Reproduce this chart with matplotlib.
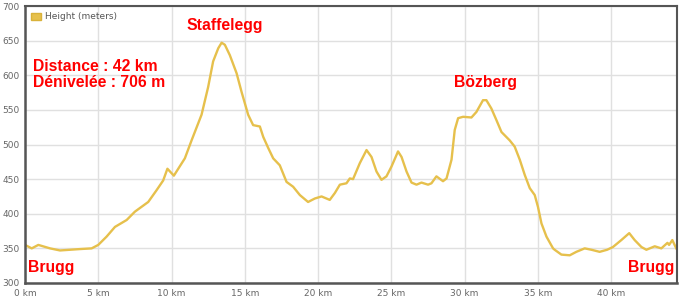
import matplotlib
matplotlib.use("Agg")
import matplotlib.pyplot as plt
import numpy as np
from matplotlib.patches import Patch

# profil Brugg - Staffelegg - Bözberg - Brugg
dist_km = [0.00, 0.46, 0.91, 1.71, 2.39, 3.07, 3.75, 4.55, 5.00, 5.57,
           6.14, 6.94, 7.50, 8.41, 8.98, 9.43, 9.72, 10.16, 10.91, 11.37,
           12.05, 12.50, 12.84, 13.19, 13.42, 13.64, 13.98, 14.44, 14.78, 15.23,
           15.57, 16.03, 16.26, 16.60, 16.94, 17.39, 17.85, 18.30, 18.76, 19.32,
           19.78, 20.24, 20.80, 21.15, 21.49, 21.94, 22.17, 22.39, 22.85, 23.31,
           23.65, 23.99, 24.33, 24.67, 25.01, 25.46, 25.70, 26.04, 26.38, 26.72,
           27.06, 27.51, 27.74, 28.08, 28.53, 28.77, 29.11, 29.33, 29.56, 29.90,
           30.47, 30.81, 31.26, 31.49, 31.83, 32.18, 32.52, 33.08, 33.42, 33.77,
           34.11, 34.45, 34.79, 35.01, 35.25, 35.59, 36.04, 36.15, 36.61, 37.18,
           37.63, 38.20, 38.66, 39.22, 39.73, 40.13, 40.70, 41.24, 41.61, 42.07,
           42.41, 42.98, 43.43, 43.85, 43.96, 44.18, 44.45]
alt_m = [355, 350, 355, 350, 347, 348, 349, 350, 355, 367,
         381, 391, 403, 417, 434, 448, 465, 455, 480, 506,
         543, 583, 620, 639, 647, 644, 629, 603, 576, 543,
         528, 526, 511, 495, 480, 470, 446, 439, 427, 417,
         422, 425, 420, 430, 442, 444, 451, 450, 473, 492,
         482, 461, 449, 454, 468, 490, 482, 461, 445, 442,
         445, 442, 444, 454, 447, 451, 478, 521, 538, 540,
         539, 547, 564, 564, 552, 535, 518, 506, 497, 478,
         456, 437, 427, 410, 386, 367, 350, 348, 341, 340,
         345, 350, 348, 345, 348, 352, 362, 372, 362, 352,
         348, 353, 350, 358, 355, 362, 350]

xticks = [0, 5, 10, 15, 20, 25, 30, 35, 40]
yticks = [300, 350, 400, 450, 500, 550, 600, 650, 700]

couleur = '#E6C04C'

fig = plt.figure(figsize=(6.83, 3.04), dpi=100)
ax = fig.add_axes([25/683, 1-283/304, (677-25)/683, (283-6)/304])

ax.plot(dist_km, alt_m, color=couleur, lw=1.7, solid_joinstyle='round')

ax.set_xlim(0, 44.5)
ax.set_ylim(300, 700)
ax.set_xticks(xticks)
ax.set_xticklabels(['%d km' % k for k in xticks])
ax.set_yticks(yticks)
ax.grid(True, color='#e0e0e0', lw=1)
ax.set_axisbelow(True)
ax.tick_params(length=0, labelsize=6.5, labelcolor='#666666', pad=4)
for s in ax.spines.values():
    s.set_color('#555555')
    s.set_linewidth(1.5)
ax.spines['left'].set_linewidth(1.8)
ax.spines['bottom'].set_linewidth(1.8)

# legende
leg = ax.legend(handles=[Patch(facecolor=couleur, edgecolor='#d9b23a', label='Height (meters)')],
                loc='upper left', frameon=False, fontsize=6.5, handlelength=1.1,
                handleheight=0.8, handletextpad=0.4, borderaxespad=0.3,
                bbox_to_anchor=(0.0, 1.0))
for t in leg.get_texts():
    t.set_color('#555555')

# textes rouges
red = dict(color='#ff0000', fontsize=11.3, fontweight='bold', family='Liberation Sans')
ax.text(13.64, 672, 'Staffelegg', ha='center', va='center', **red)
ax.text(0.55, 613, 'Distance : 42 km', ha='left', va='center', **red)
ax.text(0.55, 590, 'Dénivelée : 706 m', ha='left', va='center', **red)
ax.text(31.4, 590, 'Bözberg', ha='center', va='center', **red)
ax.text(0.2, 323, 'Brugg', ha='left', va='center', **red)
ax.text(44.3, 322, 'Brugg', ha='right', va='center', **red)

fig.savefig('out.png', dpi=100)
